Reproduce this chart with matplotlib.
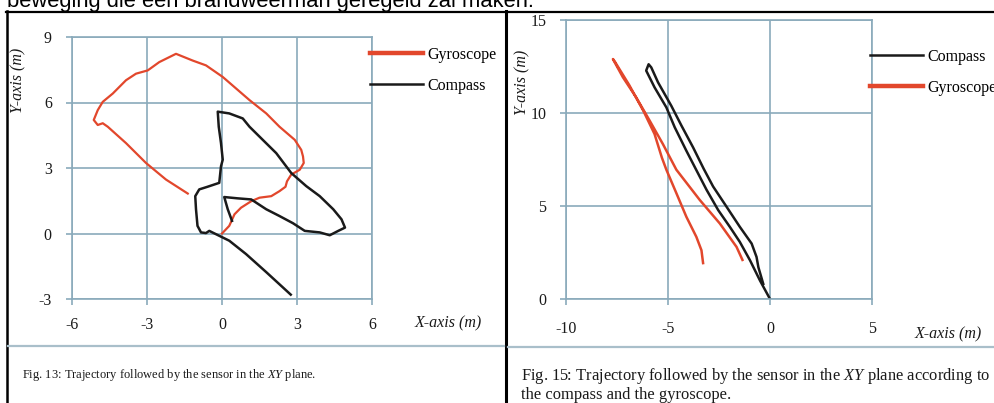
import numpy as np
import matplotlib
matplotlib.use("Agg")
import matplotlib.pyplot as plt
from matplotlib.lines import Line2D

plt.rcParams['font.family'] = ['Liberation Serif', 'DejaVu Serif']
plt.rcParams['mathtext.fontset'] = 'custom'
plt.rcParams['mathtext.it'] = 'Liberation Serif:italic'
plt.rcParams['mathtext.rm'] = 'Liberation Serif'
plt.rcParams['axes.unicode_minus'] = False

# Fig. 13 - gyroscope trajectory (m)
gyro13_x = [0, 0.29, 0.50, 0.76, 1.17, 1.50, 1.97, 2.30, 2.54, 2.60, 2.77, 3.11, 3.27, 3.24,
            3.17, 2.91, 2.30, 1.77, 1.10, 0.03, -0.64, -1.17, -1.84, -2.51, -2.97, -3.44,
            -3.84, -4.37, -4.77, -4.97, -5.13, -4.97, -4.77, -4.57, -3.84, -3.04, -2.24, -1.37]
gyro13_y = [0, 0.35, 0.88, 1.18, 1.48, 1.64, 1.71, 1.94, 2.14, 2.39, 2.70, 2.92, 3.23, 3.53,
            3.83, 4.29, 4.89, 5.50, 6.11, 7.17, 7.70, 7.92, 8.23, 7.85, 7.47, 7.32,
            7.02, 6.41, 6.03, 5.65, 5.20, 4.97, 5.05, 4.89, 4.14, 3.23, 2.47, 1.83]

# Fig. 13 - compass trajectory (m)
comp13_x = [0.40, 0.23, 0.09, 0.63, 1.17, 1.77, 2.30, 2.84, 3.31, 3.91, 4.31, 4.65, 4.92, 4.78,
            4.45, 3.91, 3.37, 2.77, 2.17, 1.63, 1.10, 0.83, 0.29, -0.17, -0.13, -0.04, 0.03,
            -0.04, -0.11, -0.58, -0.91, -1.07, -1.04, -0.98, -0.84, -0.64, -0.51, 0.29, 0.96,
            1.77, 2.75]
comp13_y = [0.58, 1.11, 1.67, 1.61, 1.56, 1.11, 0.80, 0.47, 0.12, 0.05, -0.08, 0.12, 0.27, 0.65,
            1.11, 1.71, 2.17, 2.77, 3.68, 4.29, 4.89, 5.27, 5.50, 5.58, 4.89, 4.14, 3.38,
            3.08, 2.32, 2.14, 2.02, 1.71, 1.11, 0.35, 0.05, 0.02, 0.12, -0.33, -0.94,
            -1.77, -2.80]

# Fig. 15 - compass trajectory (m)
comp15_x = [0, -0.49, -0.98, -1.48, -1.97, -2.54, -3.11, -3.62, -4.10, -4.67, -5.08,
            -5.66, -6.07, -5.95, -5.82, -5.49, -4.84, -4.34, -3.77, -3.25, -2.79,
            -2.13, -1.48, -0.90, -0.66, -0.57, -0.33]
comp15_y = [0, 0.99, 2.08, 3.07, 3.88, 4.78, 5.87, 6.95, 7.97, 9.23, 10.30,
            11.38, 12.28, 12.62, 12.45, 11.65, 10.39, 9.32, 8.15, 7.00, 6.05,
            4.96, 3.88, 2.98, 2.26, 1.71, 0.81]

# Fig. 15 - gyroscope trajectory (m)
gyro15_x = [-1.35, -1.64, -2.46, -3.44, -4.59, -5.25, -5.90, -6.56, -7.21, -7.70, -7.60,
            -6.90, -6.20, -5.66, -5.30, -5.08, -4.59, -4.10, -3.61, -3.36, -3.28]
gyro15_y = [2.10, 2.80, 4.06, 5.32, 6.95, 8.33, 9.59, 10.84, 11.92, 12.90, 12.75,
            11.50, 10.10, 8.87, 7.60, 6.95, 5.69, 4.42, 3.34, 2.62, 1.93]

W, H = 994, 403
GRID = '#8aaabb'
RED = '#e2472c'
INK = '#1a1a1a'


def fx(px):
    return px / W


def fy(py):
    return 1 - py / H


def setup(ax, xticks, yticks, xpad, ypad):
    ax.set_xlim(xticks[0], xticks[-1])
    ax.set_ylim(yticks[0], yticks[-1])
    ax.set_xticks(xticks)
    ax.set_yticks(yticks)
    ax.grid(True, color=GRID, lw=1.2)
    ax.set_axisbelow(True)
    for s in ax.spines.values():
        s.set_color(GRID)
        s.set_linewidth(1.2)
    ax.tick_params(direction='out', length=4, width=1.2, color=GRID,
                   labelsize=11.5, labelcolor=INK)
    ax.tick_params(axis='x', pad=xpad)
    ax.tick_params(axis='y', pad=ypad)


fig = plt.figure(figsize=(W / 100, H / 100), dpi=100)
fig.patch.set_facecolor('white')

# Fig. 13
ax1 = fig.add_axes([fx(72), fy(299), fx(300), 262 / H])
setup(ax1, [-6, -3, 0, 3, 6], [-3, 0, 3, 6, 9], 9, 10.5)
ax1.plot(gyro13_x, gyro13_y, color=RED, lw=1.6, label='Gyroscope')
ax1.plot(comp13_x, comp13_y, color=INK, lw=1.8, label='Compass')
leg1 = ax1.legend(loc='upper left', bbox_to_anchor=(fx(370), fy(47)),
                  bbox_transform=fig.transFigure, frameon=False, fontsize=11.5,
                  handlelength=3.3, handletextpad=0.3, labelspacing=0.92,
                  borderpad=0, borderaxespad=0)

# Fig. 15
ax2 = fig.add_axes([fx(566), fy(299), fx(306), 279 / H])
setup(ax2, [-10, -5, 0, 5], [0, 5, 10, 15], 12, 10)
ax2.plot(comp15_x, comp15_y, color=INK, lw=1.8, label='Compass')
ax2.plot(gyro15_x, gyro15_y, color=RED, lw=1.8, label='Gyroscope')
leg2 = ax2.legend(loc='upper left', bbox_to_anchor=(fx(870), fy(49)),
                  bbox_transform=fig.transFigure, frameon=False, fontsize=11.5,
                  handlelength=3.3, handletextpad=0.3, labelspacing=0.92,
                  borderpad=0, borderaxespad=0)

for leg in (leg1, leg2):
    for ln in leg.get_lines():
        ln.set_linewidth(3.2 if ln.get_color() == RED else 1.8)

# axis titles
fig.text(fx(18), fy(80), 'Y-axis (m)', rotation=90, style='italic', fontsize=11.5,
         ha='center', va='center', color=INK)
fig.text(fx(522), fy(82), 'Y-axis (m)', rotation=90, style='italic', fontsize=11.5,
         ha='center', va='center', color=INK)
fig.text(fx(415), fy(323), 'X-axis (m)', style='italic', fontsize=11.5,
         ha='left', va='center', color=INK)
fig.text(fx(915), fy(334), 'X-axis (m)', style='italic', fontsize=11.5,
         ha='left', va='center', color=INK)

# captions
fig.text(fx(22), fy(375), 'Fig. 13: Trajectory followed by the sensor in the $XY$ plane.',
         fontsize=9.0, ha='left', va='center', color=INK)
fig.text(fx(521), fy(376), 'Fig. 15: Trajectory followed by the sensor in the $XY$ plane according to',
         fontsize=11.9, ha='left', va='center', color=INK)
fig.text(fx(521), fy(395), 'the compass and the gyroscope.',
         fontsize=11.9, ha='left', va='center', color=INK)

# page text cut off at the top
fig.text(fx(7), fy(7), 'beweging die een brandweerman geregeld zal maken.',
         family='Liberation Sans', fontsize=15.8, ha='left', va='baseline', color='black')

# table borders and caption dividers
fig.add_artist(Line2D([fx(6), 1], [fy(12), fy(12)], color='black', lw=1.6))
fig.add_artist(Line2D([fx(7), fx(7)], [0, fy(11)], color='black', lw=1.8))
fig.add_artist(Line2D([fx(506), fx(506)], [0, fy(11)], color='black', lw=2.2))
fig.add_artist(Line2D([fx(8), fx(504)], [fy(346), fy(346)], color='#a9bfca', lw=1.6))
fig.add_artist(Line2D([fx(508), 1], [fy(347), fy(347)], color='#a9bfca', lw=1.6))

fig.savefig('out.png', dpi=100)
